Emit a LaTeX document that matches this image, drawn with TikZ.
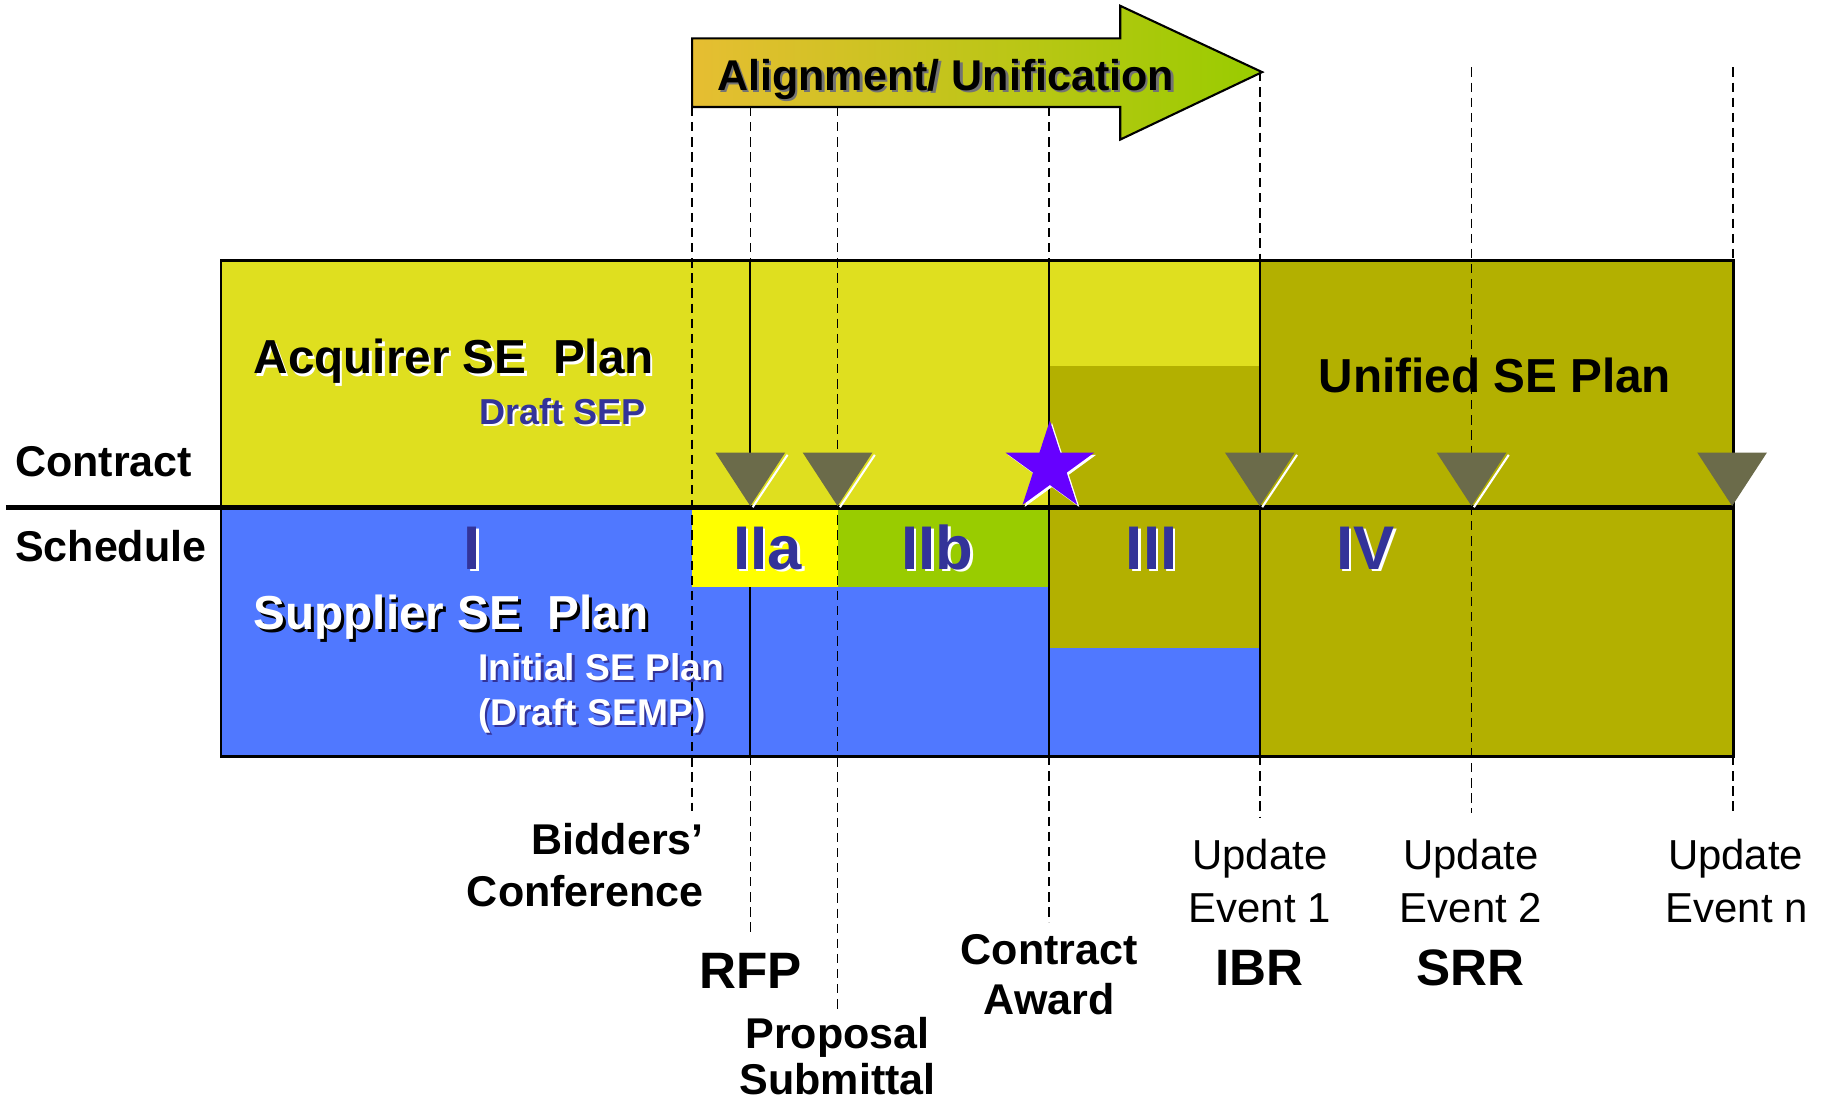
\documentclass[tikz,border=0pt]{standalone}
\usepackage{fontspec}
\setmainfont{Liberation Sans}
\definecolor{acqc}{RGB}{223,223,31}
\definecolor{bluec}{RGB}{80,120,255}
\definecolor{olivec}{RGB}{179,176,0}
\definecolor{iiac}{RGB}{255,255,0}
\definecolor{iibc}{RGB}{153,204,0}
\definecolor{tric}{RGB}{107,107,74}
\definecolor{starc}{RGB}{102,0,255}
\definecolor{navyc}{RGB}{51,51,153}
\definecolor{arrl}{RGB}{230,190,50}
\definecolor{arrr}{RGB}{153,204,0}
\newcommand\myfs[1]{\fontsize{#1}{#1}\selectfont}
\tikzset{
  txt/.style={inner sep=0pt, outer sep=0pt},
  bsz/.style={font=\bfseries\myfs{#1}},
  rsz/.style={font=\myfs{#1}},
  dashln/.style={line width=1.4pt, dash pattern=on 8pt off 5pt},
  solidln/.style={line width=1.5pt},
  tristyle/.style={fill=tric},
  hilite/.style={white, line width=1.8pt},
}
\begin{document}
\begin{tikzpicture}[x=1pt,y=-1pt]
\useasboundingbox (0,0) rectangle (1568,949);
% ---------- fills
\fill[acqc] (190,224) rectangle (1083,436);
\fill[olivec] (902,315) rectangle (1083,436);
\fill[olivec] (1083,224) rectangle (1490,650);
\fill[bluec] (190,436) rectangle (902,650);
\fill[iiac] (595,436) rectangle (720,505);
\fill[iibc] (720,436) rectangle (902,505);
\fill[olivec] (902,436) rectangle (1083,557);
\fill[bluec] (902,557) rectangle (1083,650);
% ---------- named coordinates for milestone lines
\coordinate (bT) at (595,92);   \coordinate (bB) at (595,697);
\coordinate (rT) at (645,92);   \coordinate (rBoxT) at (645,224);
\coordinate (rTri) at (645,389); \coordinate (rMid) at (645,505);
\coordinate (rBoxB) at (645,650); \coordinate (rB) at (645,804);
\coordinate (pT) at (720,92);   \coordinate (pB) at (720,868);
\coordinate (cT) at (902,92);   \coordinate (cBoxT) at (902,224);
\coordinate (cBoxB) at (902,650); \coordinate (cB) at (902,793);
\coordinate (iT) at (1083,62);  \coordinate (iBoxT) at (1083,224);
\coordinate (iBoxB) at (1083,650); \coordinate (iB) at (1083,703);
\coordinate (sT) at (1265,58);  \coordinate (sB) at (1265,699);
\coordinate (nT) at (1490,58);  \coordinate (nBoxT) at (1490,224);
\coordinate (nBoxB) at (1490,650); \coordinate (nB) at (1490,699);
\coordinate (hl) at (5,436);    \coordinate (hr) at (1490,436);
% ---------- dashed milestone lines
\draw[dashln] (bT) -- (bB);
\draw[dashln] (rT) -- (rBoxT);
\draw[dashln] (rBoxB) -- (rB);
\draw[dashln] (pT) -- (pB);
\draw[dashln] (cT) -- (cBoxT);
\draw[dashln] (cBoxB) -- (cB);
\draw[dashln] (iT) -- (iBoxT);
\draw[dashln] (iBoxB) -- (iB);
\draw[dashln] (sT) -- (sB);
\draw[dashln] (nT) -- (nBoxT);
\draw[dashln] (nBoxB) -- (nB);
% ---------- solid lines inside the box
\draw[solidln] (rBoxT) -- (rTri);
\draw[solidln] (rMid) -- (rBoxB);
\draw[solidln] (cBoxT) -- (cBoxB);
\draw[solidln] (iBoxT) -- (iBoxB);
% ---------- box and divider
\draw[line width=2.5pt] (190,224) rectangle (1490,650);
\draw[line width=4pt] (hl) -- (hr);
% ---------- triangles
\foreach \x in {645,720,1083,1265}{
  \fill[tristyle] (\x-30,389) -- (\x+30,389) -- (\x,435) -- cycle;
  \draw[hilite] (\x+32,391) -- (\x+2,436);
}
\fill[tristyle] (1459,389) -- (1519,389) -- (1489,435) -- cycle;
% ---------- star
\fill[white] ([shift={(1.8,1.8)}]902.5,361.6) -- ([shift={(1.8,1.8)}]911.5,389.2) -- ([shift={(1.8,1.8)}]940.5,389.2) -- ([shift={(1.8,1.8)}]917,406.3) -- ([shift={(1.8,1.8)}]926,434) -- ([shift={(1.8,1.8)}]902.5,416.9) -- ([shift={(1.8,1.8)}]879,434) -- ([shift={(1.8,1.8)}]888,406.3) -- ([shift={(1.8,1.8)}]864.5,389.2) -- ([shift={(1.8,1.8)}]893.5,389.2) -- cycle;
\fill[starc] (902.5,361.6) -- (911.5,389.2) -- (940.5,389.2) -- (917,406.3) -- (926,434) -- (902.5,416.9) -- (879,434) -- (888,406.3) -- (864.5,389.2) -- (893.5,389.2) -- cycle;
% ---------- arrow
\shadedraw[left color=arrl, right color=arrr, line width=1.8pt, line join=miter]
  (595,33) -- (963,33) -- (963,5) -- (1085,62) -- (963,120) -- (963,92) -- (595,92) -- cycle;
\node[txt, bsz=37, black!55, anchor=base] (alS) at (815,79.5) {Alignment/ Unification};
\node[txt, bsz=37, black, anchor=base] (al) at (813,78) {Alignment/ Unification};
% ---------- left labels
\node[txt, bsz=37, anchor=base west] (lcon) at (13,410) {Contract};
\node[txt, bsz=37, anchor=base west] (lsch) at (13,483) {Schedule};
% ---------- box texts
\node[txt, bsz=41, white, anchor=base west] (acqS) at (220,323.5) {Acquirer SE\ \ Plan};
\node[txt, bsz=41, black, anchor=base west] (acq) at (218,321.5) {Acquirer SE\ \ Plan};
\node[txt, bsz=31, white, anchor=base west] (sepS) at (413.5,366.5) {Draft SEP};
\node[txt, bsz=31, navyc, anchor=base west] (sep) at (412,365) {Draft SEP};
\node[txt, bsz=41, black, anchor=base] (uni) at (1285,337) {Unified SE Plan};
\node[txt, bsz=41, black, anchor=base west] (supS) at (220.5,544) {Supplier SE\ \ Plan};
\node[txt, bsz=41, white, anchor=base west] (sup) at (218,541.5) {Supplier SE\ \ Plan};
\node[txt, bsz=32, navyc, anchor=base west] (iniS) at (413,587) {Initial SE Plan};
\node[txt, bsz=32, white, anchor=base west] (ini) at (411,585) {Initial SE Plan};
\node[txt, bsz=32, navyc, anchor=base west] (semS) at (413,625.5) {(Draft SEMP)};
\node[txt, bsz=32, white, anchor=base west] (sem) at (411,623.5) {(Draft SEMP)};
% ---------- phase numerals
\foreach \nm/\px/\tx in {pI/406/I, pIIa/660/IIa, pIIb/806/IIb, pIII/990/III, pIV/1174/IV}{
  \node[txt, bsz=53, white, anchor=base] (\nm S) at (\px+2,491.5) {\tx};
  \node[txt, bsz=53, navyc, anchor=base] (\nm) at (\px,489.5) {\tx};
}
% ---------- milestone labels
\node[txt, bsz=37, anchor=base east] (bid1) at (605,734.6) {Bidders’};
\node[txt, bsz=37, anchor=base east] (bid2) at (605,779.5) {Conference};
\node[txt, bsz=44, anchor=base] (rfp) at (645,850) {RFP};
\node[txt, bsz=37, anchor=base] (prop1) at (720,901) {Proposal};
\node[txt, bsz=37, anchor=base] (prop2) at (720,941) {Submittal};
\node[txt, bsz=37, anchor=base] (ca1) at (902,829) {Contract};
\node[txt, bsz=37, anchor=base] (ca2) at (902,872) {Award};
\node[txt, rsz=36, anchor=base] (u11) at (1083,747.3) {Update};
\node[txt, rsz=36, anchor=base] (u12) at (1083,793.4) {Event 1};
\node[txt, bsz=44, anchor=base] (ibr) at (1083,847.3) {IBR};
\node[txt, rsz=36, anchor=base] (u21) at (1264.5,747.3) {Update};
\node[txt, rsz=36, anchor=base] (u22) at (1264.5,793.4) {Event 2};
\node[txt, bsz=44, anchor=base] (srr) at (1264,847.3) {SRR};
\node[txt, rsz=36, anchor=base] (un1) at (1492,747.3) {Update};
\node[txt, rsz=36, anchor=base] (un2) at (1493,793.4) {Event n};
\end{tikzpicture}
\end{document}
